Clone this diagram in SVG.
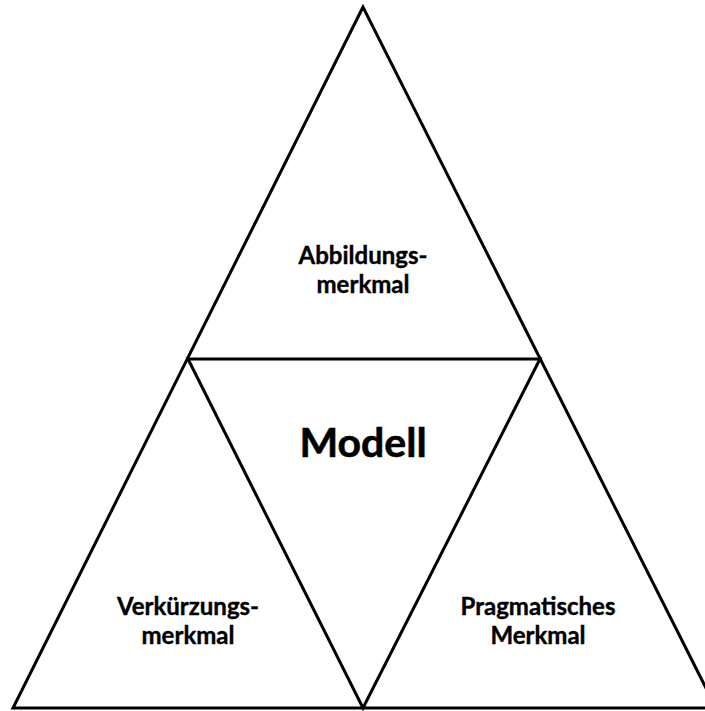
<svg xmlns="http://www.w3.org/2000/svg" width="705" height="711" viewBox="0 0 705 711">
  <style>
    .edge { fill: none; stroke: #000; stroke-width: 3; stroke-linejoin: miter; }
    .label { font-family: Lato, "Open Sans", "Liberation Sans", sans-serif; font-weight: bold; font-size: 24px; fill: #000; text-anchor: middle; stroke: #000; stroke-width: 0.4; }
    .title { font-size: 41px; stroke-width: 0.6; }
  </style>
  <rect width="705" height="711" fill="#fff"/>
  <g id="connectors">
    <!-- outer triangle and the inner subdivision -->
    <polygon class="edge" points="363,7 13,708 716,708"/>
    <polygon class="edge" points="188,359 540,359 363,708"/>
  </g>
  <g id="abbildung">
    <text class="label" x="363" y="264">Abbildungs-<tspan x="363" y="293">merkmal</tspan></text>
  </g>
  <g id="modell">
    <text class="label title" x="363" y="457">Modell</text>
  </g>
  <g id="verkuerzung">
    <text class="label" x="188" y="615">Verkürzungs-<tspan x="188" y="644">merkmal</tspan></text>
  </g>
  <g id="pragmatik">
    <text class="label" x="538" y="615">Pragmatisches<tspan x="538" y="644">Merkmal</tspan></text>
  </g>
</svg>
